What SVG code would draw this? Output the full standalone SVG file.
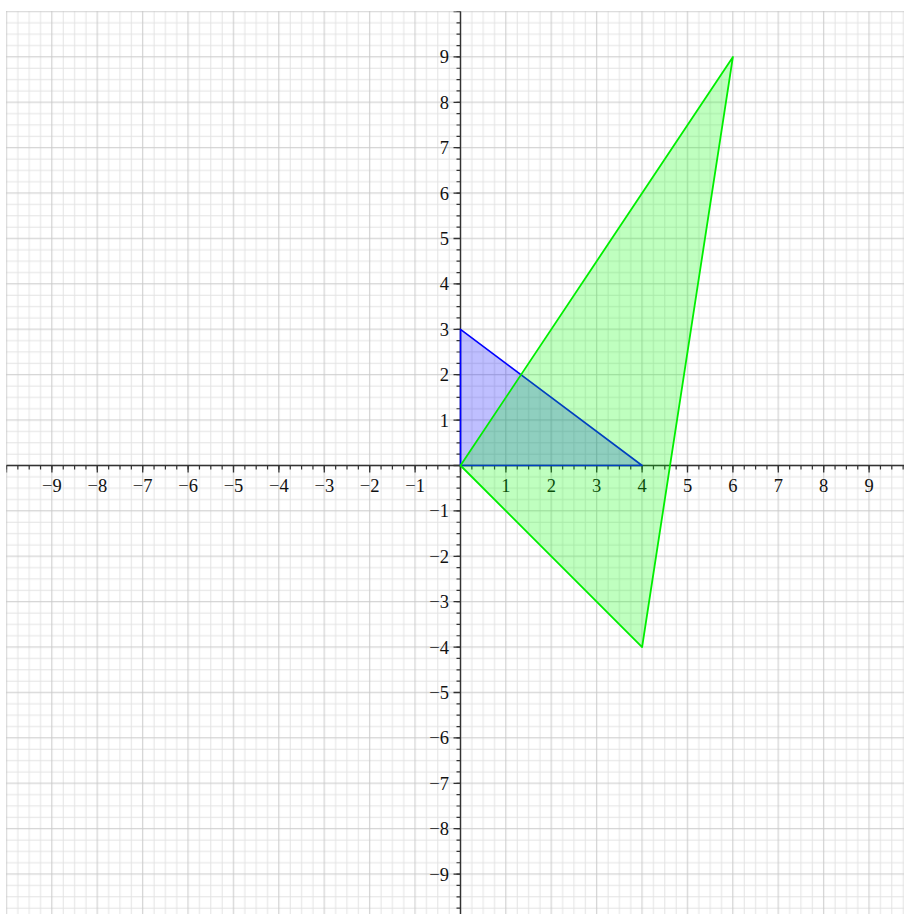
<svg xmlns="http://www.w3.org/2000/svg" width="904" height="914" viewBox="0 0 904 914">
<style>
.lbl{font-family:"Liberation Serif","DejaVu Serif",serif;font-size:18.5px;fill:#111}
.xl{text-anchor:middle}
.yl{text-anchor:end}
.axis{stroke:#333;stroke-width:1.4;fill:none}
</style>
<defs>
<pattern id="grid" patternUnits="userSpaceOnUse" x="0.825" y="5.825" width="45.4" height="45.4">
<path d="M17.025 0V45.4M28.375 0V45.4M39.725 0V45.4M0 17.025H45.4M0 28.375H45.4M0 39.725H45.4" stroke="#e3e3e3" stroke-width="1"/>
<path d="M5.675 0V45.4M0 5.675H45.4" stroke="#c9c9c9" stroke-width="1"/>
</pattern>
</defs>
<rect width="904" height="914" fill="#fff"/>
<rect x="6" y="11" width="898" height="903" fill="url(#grid)"/>
<g id="axes">
<line class="axis" x1="6.5" y1="465.5" x2="904" y2="465.5"/>
<line class="axis" x1="460.5" y1="11.5" x2="460.5" y2="914"/>
<line x1="6.5" y1="467.5" x2="904" y2="467.5" stroke="#333" stroke-width="4" stroke-dasharray="1.2 10.15" stroke-dashoffset="0.6"/>
<line x1="6.5" y1="469" x2="904" y2="469" stroke="#333" stroke-width="7" stroke-dasharray="1.3 44.1" stroke-dashoffset="0.65"/>
<line x1="458.5" y1="11.5" x2="458.5" y2="914" stroke="#333" stroke-width="4" stroke-dasharray="1.2 10.15" stroke-dashoffset="0.6"/>
<line x1="457" y1="11.5" x2="457" y2="914" stroke="#333" stroke-width="7" stroke-dasharray="1.3 44.1" stroke-dashoffset="0.65"/>
</g>
<g id="x-labels" class="lbl xl">
<text x="51.9" y="492">−9</text>
<text x="97.3" y="492">−8</text>
<text x="142.7" y="492">−7</text>
<text x="188.1" y="492">−6</text>
<text x="233.5" y="492">−5</text>
<text x="278.9" y="492">−4</text>
<text x="324.3" y="492">−3</text>
<text x="369.7" y="492">−2</text>
<text x="415.1" y="492">−1</text>
<text x="505.9" y="492">1</text>
<text x="551.3" y="492">2</text>
<text x="596.7" y="492">3</text>
<text x="642.1" y="492">4</text>
<text x="687.5" y="492">5</text>
<text x="732.9" y="492">6</text>
<text x="778.3" y="492">7</text>
<text x="823.7" y="492">8</text>
<text x="869.1" y="492">9</text>
</g>
<g id="y-labels" class="lbl yl">
<text x="449" y="63.4">9</text>
<text x="449" y="108.8">8</text>
<text x="449" y="154.2">7</text>
<text x="449" y="199.6">6</text>
<text x="449" y="245">5</text>
<text x="449" y="290.4">4</text>
<text x="449" y="335.8">3</text>
<text x="449" y="381.2">2</text>
<text x="449" y="426.6">1</text>
<text x="449" y="517.4">−1</text>
<text x="449" y="562.8">−2</text>
<text x="449" y="608.2">−3</text>
<text x="449" y="653.6">−4</text>
<text x="449" y="699">−5</text>
<text x="449" y="744.4">−6</text>
<text x="449" y="789.8">−7</text>
<text x="449" y="835.2">−8</text>
<text x="449" y="880.6">−9</text>
</g>
<g id="blue-triangle">
<polygon points="460.5,465.5 460.5,329.3 642.1,465.5" fill="#0000ff" fill-opacity="0.25" stroke="#0000ff" stroke-width="1.6" stroke-linejoin="round"/>
</g>
<g id="green-triangle">
<polygon points="460.5,465.5 732.9,56.9 642.1,647.1" fill="#00ff00" fill-opacity="0.25" stroke="#00ee00" stroke-width="1.8" stroke-linejoin="round"/>
</g>
</svg>
